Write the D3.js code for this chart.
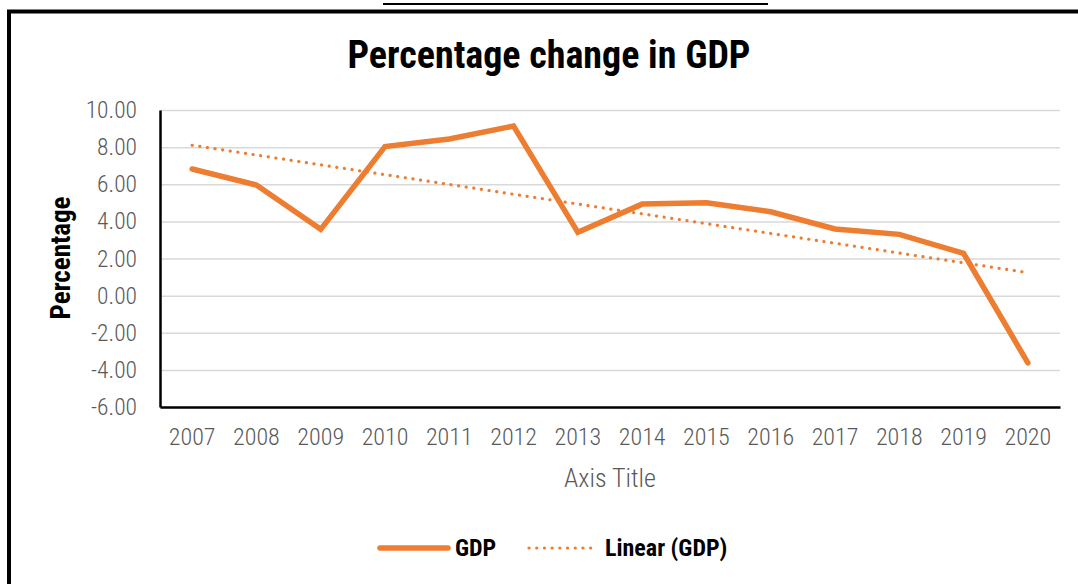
<!DOCTYPE html>
<html><head><meta charset="utf-8">
<script src="https://cdn.jsdelivr.net/npm/d3@7"></script>
<style>
html,body{margin:0;padding:0;background:#fff;}
svg{display:block;}
text{font-family:"Roboto Condensed","Liberation Sans Narrow","DejaVu Sans Condensed","Liberation Sans",sans-serif;}
</style></head>
<body>
<svg id="c" width="1078" height="584"></svg>
<script>
const years = ["2007","2008","2009","2010","2011","2012","2013","2014","2015","2016","2017","2018","2019","2020"];
const gdp = [6.82, 5.96, 3.57, 8.03, 8.44, 9.14, 3.41, 4.93, 5.00, 4.52, 3.59, 3.30, 2.28, -3.62];
const yTicks = [-6, -4, -2, 0, 2, 4, 6, 8, 10];
const titleText = "Percentage change in GDP";
const yTitle = "Percentage";
const xTitle = "Axis Title";
const legendLabels = ["GDP", "Linear (GDP)"];

const svg = d3.select("#c");
const orange = "#ED7D31";
const m = {left:160, right:1060, top:110, bottom:407};

svg.append("rect").attr("x",9).attr("y",11.5).attr("width",1200).attr("height",800)
  .attr("fill","none").attr("stroke","#000").attr("stroke-width",4);
svg.append("line").attr("x1",383).attr("x2",768).attr("y1",4).attr("y2",4)
  .attr("stroke","#000").attr("stroke-width",2);

const x = d3.scaleBand().domain(years).range([m.left, m.right]).padding(0);
const y = d3.scaleLinear().domain([-6, 10]).range([m.bottom, m.top]);

const grid = svg.append("g").attr("transform",`translate(${m.left},0)`)
  .call(d3.axisLeft(y).tickValues(yTicks).tickSize(-(m.right-m.left)).tickFormat(""));
grid.select(".domain").remove();
grid.selectAll(".tick line").attr("stroke","#d9d9d9").attr("stroke-width",1.5);

const fmt = v => d3.format(".2f")(v).replace("\u2212","-");
const yAx = svg.append("g").attr("transform",`translate(${m.left},0)`)
  .call(d3.axisLeft(y).tickValues(yTicks).tickSize(0).tickPadding(23).tickFormat(fmt));
yAx.select(".domain").attr("stroke","#000").attr("stroke-width",2.5);
yAx.selectAll("text").attr("fill","#595959").style("font-size","23.5px").style("font-weight","300")
  .style("font-family",'"Roboto Condensed","Liberation Sans Narrow",sans-serif');

const xAx = svg.append("g").attr("transform",`translate(0,${m.bottom})`)
  .call(d3.axisBottom(x).tickSize(0).tickPadding(21));
xAx.select(".domain").attr("stroke","#000").attr("stroke-width",2.5);
xAx.selectAll("text").attr("fill","#595959").style("font-size","24px").style("font-weight","300")
  .style("font-family",'"Roboto Condensed","Liberation Sans Narrow",sans-serif');

// linear trendline: least squares fit of the GDP series
const n = gdp.length;
const xs = d3.range(1, n+1);
const mx = d3.mean(xs), my = d3.mean(gdp);
const slope = d3.sum(xs, (v,i)=>(v-mx)*(gdp[i]-my)) / d3.sum(xs, v=>(v-mx)*(v-mx));
const icpt = my - slope*mx;
const trend = [[years[0], icpt + slope*1], [years[n-1], icpt + slope*n]];

const cx = d => x(d) + x.bandwidth()/2;
svg.append("path").datum(trend)
  .attr("d", d3.line().x(d=>cx(d[0])).y(d=>y(d[1])))
  .attr("fill","none").attr("stroke",orange).attr("stroke-width",3.2)
  .attr("stroke-linecap","round").attr("stroke-dasharray","0.1 7.6");

svg.append("path").datum(gdp)
  .attr("d", d3.line().x((d,i)=>cx(years[i])).y(d=>y(d)))
  .attr("fill","none").attr("stroke",orange).attr("stroke-width",5.5)
  .attr("stroke-linecap","round").attr("stroke-linejoin","miter");

svg.append("text").attr("x",549).attr("y",68).attr("text-anchor","middle")
  .style("font-size","38px").style("font-weight","bold").attr("fill","#000").text(titleText);

svg.append("text").attr("transform","translate(70,258) rotate(-90)").attr("text-anchor","middle")
  .style("font-size","27px").style("font-weight","bold").attr("fill","#000").text(yTitle);

svg.append("text").attr("x",610).attr("y",487).attr("text-anchor","middle")
  .style("font-size","26px").style("font-weight","300").attr("fill","#595959").text(xTitle);

const lg = svg.append("g");
lg.append("line").attr("x1",380).attr("x2",448).attr("y1",548).attr("y2",548)
  .attr("stroke",orange).attr("stroke-width",5.5).attr("stroke-linecap","round");
lg.append("text").attr("x",455).attr("y",556).style("font-size","24px").style("font-weight","bold")
  .attr("fill","#000").text(legendLabels[0]);
lg.append("line").attr("x1",529).attr("x2",592).attr("y1",548).attr("y2",548)
  .attr("stroke",orange).attr("stroke-width",3.2).attr("stroke-linecap","round").attr("stroke-dasharray","0.1 7.6");
lg.append("text").attr("x",605).attr("y",556).style("font-size","24px").style("font-weight","bold")
  .attr("fill","#000").text(legendLabels[1]);
</script>
</body></html>
